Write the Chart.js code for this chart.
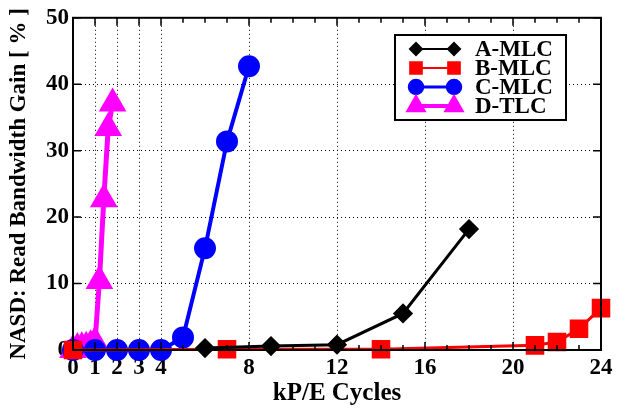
<!DOCTYPE html>
<html>
<head>
<meta charset="utf-8">
<script src="https://cdn.jsdelivr.net/npm/chart.js@4.4.0/dist/chart.umd.min.js"></script>
<style>
  html, body { margin: 0; padding: 0; background: #fff; }
  #wrap { width: 632px; height: 409px; }
</style>
</head>
<body>
<div id="wrap"><canvas id="gainChart" width="632" height="409"></canvas></div>
<script>
// kP/E cycles vs read bandwidth gain (%)
const aCycles = [6, 9, 12, 15, 18];
const aGain = [0.3, 0.6, 0.8, 5.5, 18.2];

const bCycles = [0, 7, 14, 21, 22, 23, 24];
const bGain = [0, 0.1, 0.1, 0.7, 1.2, 3.2, 6.3];

const cCycles = [0, 1, 2, 3, 4, 5, 6, 7, 8];
const cGain = [0, 0, 0, 0, 0, 1.9, 15.3, 31.4, 42.7];

const dCycles = [0, 0.2, 0.4, 0.6, 0.8, 1.0, 1.2, 1.4, 1.6, 1.8];
const dGain = [0, 0.3, 0.4, 0.5, 0.7, 1.2, 10.4, 22.7, 33.4, 37.1];

const xLabelTicks = [0, 1, 2, 3, 4, 8, 12, 16, 20, 24];
const xGridTicks = [1, 2, 3, 4, 8, 12, 16, 20];
const yTicks = [0, 10, 20, 30, 40, 50];

const FONT = '"Liberation Serif", "Times New Roman", serif';

const toPoints = (xs, ys) => xs.map((x, i) => ({ x: x, y: ys[i] }));

const series = [
  { label: 'A-MLC', data: toPoints(aCycles, aGain), color: '#000000', style: 'rectRot', radius: 8, width: 3 },
  { label: 'B-MLC', data: toPoints(bCycles, bGain), color: '#ff0000', style: 'rect', radius: 11, width: 3 },
  { label: 'C-MLC', data: toPoints(cCycles, cGain), color: '#0000ff', style: 'circle', radius: 9, width: 4 },
  { label: 'D-TLC', data: toPoints(dCycles, dGain), color: '#ff00ff', style: 'triangle', radius: 11, width: 5 },
];

// frame, inward ticks and the boxed legend (gnuplot look)
const framePlugin = {
  id: 'frame',
  afterDraw(chart) {
    const ctx = chart.ctx;
    const area = chart.chartArea;
    const xs = chart.scales.x;
    const ys = chart.scales.y;
    ctx.save();
    ctx.strokeStyle = '#000';
    ctx.lineWidth = 1.5;
    for (let v = 0; v <= 24; v++) {
      const px = xs.getPixelForValue(v);
      const len = xLabelTicks.includes(v) ? 8 : 5;
      ctx.beginPath();
      ctx.moveTo(px, area.bottom);
      ctx.lineTo(px, area.bottom - len);
      ctx.moveTo(px, area.top);
      ctx.lineTo(px, area.top + len);
      ctx.stroke();
    }
    yTicks.forEach(v => {
      const py = ys.getPixelForValue(v);
      ctx.beginPath();
      ctx.moveTo(area.left, py);
      ctx.lineTo(area.left + 8, py);
      ctx.moveTo(area.right, py);
      ctx.lineTo(area.right - 8, py);
      ctx.stroke();
    });
    ctx.lineWidth = 2;
    ctx.strokeRect(area.left, area.top, area.right - area.left, area.bottom - area.top);

    // legend
    const bx = 395, by = 35, bw = 171, bh = 85;
    ctx.fillStyle = '#fff';
    ctx.fillRect(bx, by, bw, bh);
    ctx.lineWidth = 2;
    ctx.strokeRect(bx, by, bw, bh);
    ctx.font = 'bold 23px ' + FONT;
    ctx.textBaseline = 'middle';
    ctx.textAlign = 'left';
    series.forEach((s, i) => {
      const y = by + 14 + i * 19;
      ctx.strokeStyle = s.color;
      ctx.fillStyle = s.color;
      ctx.lineWidth = s.width - 1;
      ctx.beginPath();
      ctx.moveTo(416, y);
      ctx.lineTo(454, y);
      ctx.stroke();
      const opts = { pointStyle: s.style, radius: s.radius * 0.75, rotation: 0, borderWidth: 1 };
      Chart.helpers.drawPoint(ctx, opts, 416, y);
      Chart.helpers.drawPoint(ctx, opts, 454, y);
      ctx.fillStyle = '#000';
      ctx.fillText(s.label, 475, y + 1);
    });
    ctx.restore();
  }
};

const ctx = document.getElementById('gainChart');

new Chart(ctx, {
  type: 'line',
  data: {
    datasets: series.map(s => ({
      label: s.label,
      data: s.data,
      borderColor: s.color,
      backgroundColor: s.color,
      pointBackgroundColor: s.color,
      pointBorderColor: s.color,
      pointStyle: s.style,
      pointRadius: s.radius,
      pointHoverRadius: s.radius,
      borderWidth: s.width,
      tension: 0,
      clip: false,
    })),
  },
  options: {
    responsive: false,
    animation: false,
    events: [],
    layout: { padding: { top: 13, right: 31, left: 0, bottom: 0 } },
    plugins: {
      legend: { display: false },
      tooltip: { enabled: false },
    },
    scales: {
      x: {
        type: 'linear',
        min: 0,
        max: 24,
        afterBuildTicks: (scale) => {
          scale.ticks = [...Array(25).keys()].map(v => ({ value: v }));
        },
        afterFit: (scale) => { scale.height = 59; },
        ticks: {
          autoSkip: false,
          maxRotation: 0,
          padding: 4,
          color: '#000',
          font: { family: FONT, size: 23, weight: 'bold' },
          callback: (v) => xLabelTicks.includes(v) ? String(v) : '',
        },
        grid: {
          drawTicks: false,
          lineWidth: 1,
          color: (c) => (c.tick && xGridTicks.includes(c.tick.value)) ? '#000' : 'rgba(0,0,0,0)',
        },
        border: { display: false, dash: [1, 3] },
        title: {
          display: true,
          text: 'kP/E Cycles',
          color: '#000',
          padding: { top: 3, bottom: 0 },
          font: { family: FONT, size: 25, weight: 'bold' },
        },
      },
      y: {
        min: 0,
        max: 50,
        afterBuildTicks: (scale) => {
          scale.ticks = yTicks.map(v => ({ value: v }));
        },
        afterFit: (scale) => { scale.width = 73; },
        ticks: {
          padding: 4,
          color: '#000',
          font: { family: FONT, size: 23, weight: 'bold' },
        },
        grid: {
          drawTicks: false,
          lineWidth: 1,
          color: (c) => (c.tick && c.tick.value > 0 && c.tick.value < 50) ? '#000' : 'rgba(0,0,0,0)',
        },
        border: { display: false, dash: [1, 3] },
        title: {
          display: true,
          text: 'NASD: Read Bandwidth Gain [ % ]',
          color: '#000',
          padding: { top: 5, bottom: 0 },
          font: { family: FONT, size: 23, weight: 'bold' },
        },
      },
    },
  },
  plugins: [framePlugin],
});
</script>
</body>
</html>
